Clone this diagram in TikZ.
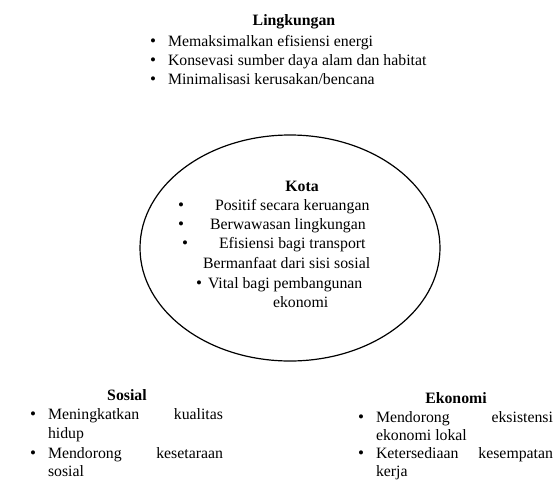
\documentclass[tikz,border=0pt]{standalone}
\usepackage{fontspec}
\setmainfont{Liberation Serif}
\begin{document}
\begin{tikzpicture}[x=1pt,y=-1pt,
  txt/.style={inner sep=0pt,outer sep=0pt,font=\fontsize{15.8}{19}\selectfont,anchor=base west},
  ttl/.style={inner sep=0pt,outer sep=0pt,font=\fontsize{15.8}{19}\selectfont\bfseries,anchor=base},
  blt/.style={inner sep=0pt,outer sep=0pt,font=\fontsize{17}{19}\selectfont,anchor=base}]
\useasboundingbox (0,0) rectangle (555,480);
% Lingkungan
\node[ttl] (lt) at (294,25) {Lingkungan};
\node[blt] (lb1) at (153,46) {\textbullet};
\node[txt] (l1) at (168,46) {Memaksimalkan efisiensi energi};
\node[blt] (lb2) at (153,65) {\textbullet};
\node[txt] (l2) at (168,65) {Konsevasi sumber daya alam dan habitat};
\node[blt] (lb3) at (153,84) {\textbullet};
\node[txt] (l3) at (168,84) {Minimalisasi kerusakan/bencana};
% Kota
\draw[line width=1.2pt] (290,248) ellipse [x radius=150, y radius=113];
\node[ttl] (kt) at (302,191) {Kota};
\node[blt] (kb1) at (181,210) {\textbullet};
\node[txt] (k1) at (215,210) {Positif secara keruangan};
\node[blt] (kb2) at (181,229) {\textbullet};
\node[txt] (k2) at (210,229) {Berwawasan lingkungan};
\node[blt] (kb3) at (185,248) {\textbullet};
\node[txt] (k3) at (219,248) {Efisiensi bagi transport};
\node[txt] (k4) at (203,268) {Bermanfaat dari sisi sosial};
\node[blt] (kb5) at (199,288) {\textbullet};
\node[txt] (k5) at (208,288) {Vital bagi pembangunan};
\node[txt] (k6) at (273,307) {ekonomi};
% Sosial
\node[ttl] (st) at (127,400) {Sosial};
\node[blt] (sb1) at (33,419) {\textbullet};
\node[txt] (s1) at (48,419) {\hbox to 175pt{Meningkatkan\hfill kualitas}};
\node[txt] (s2) at (48,438) {hidup};
\node[blt] (sb2) at (33,458) {\textbullet};
\node[txt] (s3) at (48,458) {\hbox to 175pt{Mendorong\hfill kesetaraan}};
\node[txt] (s4) at (48,476) {sosial};
% Ekonomi
\node[ttl] (et) at (456,403) {Ekonomi};
\node[blt] (eb1) at (361,422) {\textbullet};
\node[txt] (e1) at (376,422) {\hbox to 177pt{Mendorong\hfill eksistensi}};
\node[txt] (e2) at (376,440) {ekonomi lokal};
\node[blt] (eb2) at (361,458) {\textbullet};
\node[txt] (e3) at (376,458) {\hbox to 177pt{Ketersediaan\hfill kesempatan}};
\node[txt] (e4) at (376,476.5) {kerja};
\end{tikzpicture}
\end{document}
